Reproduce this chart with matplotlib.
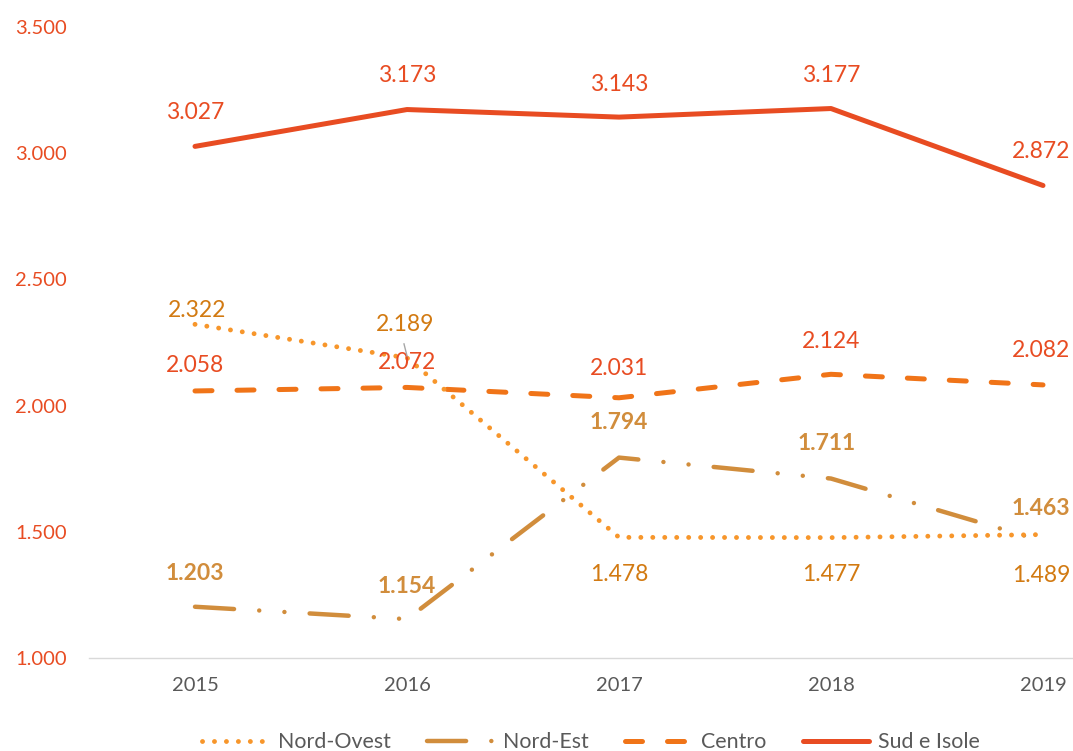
import matplotlib
matplotlib.use("Agg")
import matplotlib.pyplot as plt
from matplotlib.lines import Line2D

years = ["2015", "2016", "2017", "2018", "2019"]
nord_ovest = [2.322, 2.189, 1.478, 1.477, 1.489]
nord_est = [1.203, 1.154, 1.794, 1.711, 1.463]
centro = [2.058, 2.072, 2.031, 2.124, 2.082]
sud_isole = [3.027, 3.173, 3.143, 3.177, 2.872]
y_ticks = [1.0, 1.5, 2.0, 2.5, 3.0, 3.5]

plt.rcParams['font.family'] = ['Lato', 'DejaVu Sans']

C_SUD = "#E84C22"
C_CEN = "#F07418"
C_NO = "#F7962B"
C_NE = "#D18D3C"
C_NO_LBL = "#D27A12"
C_NE_LBL = "#D18D3C"
GRAY = "#595959"

fig = plt.figure(figsize=(10.73, 7.51), dpi=100)
W, H = 1073, 751
x_left = 89
step = 212
ax = fig.add_axes([x_left / W, (H - 658) / H, (5 * step) / W, (658 - 27) / H])
ax.set_xlim(-0.5, 4.5)
ax.set_ylim(1.0, 3.5)

x = list(range(len(years)))

LS_CEN = (0, (3.4, 5.0))
LS_NE = (0, (8.8, 5.67, 0.01, 5.67, 0.01, 5.67))
LS_NO = (0, (0.01, 2.45))

ax.plot(x, sud_isole, color=C_SUD, lw=3.6, solid_capstyle='round', solid_joinstyle='round', zorder=3)
ax.plot(x, centro, color=C_CEN, lw=3.6, linestyle=LS_CEN, dash_capstyle='round', zorder=3)
ax.plot(x, nord_est, color=C_NE, lw=3.2, linestyle=LS_NE, dash_capstyle='round', zorder=3)
ax.plot(x, nord_ovest, color=C_NO, lw=3.5, linestyle=LS_NO, dash_capstyle='round', zorder=4)

def fmt(v):
    return f"{v:.3f}"

def lbl(xi, v, dx, dy, color, bold=False):
    ax.annotate(fmt(v), (xi, v), xytext=(dx, dy), textcoords='offset pixels',
                ha='center', va='center', fontsize=16.5, color=color,
                fontweight='bold' if bold else 'normal', zorder=5)

sud_off = [(0, 34), (0, 34), (0, 33), (0, 33), (-2, 34)]
cen_off = [(0, 25), (0, 25), (0, 29), (0, 33), (-2, 34)]
no_off = [(2, 14), (-2, 33), (0, -37), (0, -37), (-2, -41)]
ne_off = [(0, 33), (0, 33), (0, 35), (-4, 35), (-2, 33)]

for i in x:
    lbl(i, sud_isole[i], *sud_off[i], C_SUD)
    lbl(i, centro[i], *cen_off[i], C_SUD)
    lbl(i, nord_ovest[i], *no_off[i], C_NO_LBL)
    lbl(i, nord_est[i], *ne_off[i], C_NE_LBL, bold=True)

# leader line for 2016 Nord-Ovest label
p0 = ax.transData.transform((1, nord_ovest[1]))
ax.plot([p0[0] - 3, p0[0]], [p0[1] + 14, p0[1] + 2], color="#A6A6A6", lw=1,
        transform=None, zorder=5)

ax.set_xticks(x)
ax.set_xticklabels(years, color=GRAY, fontsize=14.5)
ax.set_yticks(y_ticks)
ax.set_yticklabels([f"{v:.3f}" for v in y_ticks], color=C_SUD, fontsize=14.5)
ax.tick_params(axis='both', length=0)
ax.tick_params(axis='y', pad=16)
ax.tick_params(axis='x', pad=14)
for s in ['top', 'right', 'left']:
    ax.spines[s].set_visible(False)
ax.spines['bottom'].set_color("#D9D9D9")
ax.spines['bottom'].set_linewidth(1.0)

handles = [
    Line2D([], [], color=C_NO, lw=3.5, linestyle=LS_NO, dash_capstyle='round'),
    Line2D([], [], color=C_NE, lw=3.2, linestyle=(0, (8.8, 5.67, 0.01, 5.67)), dash_capstyle='round'),
    Line2D([], [], color=C_CEN, lw=3.6, linestyle=LS_CEN, dash_capstyle='round'),
    Line2D([], [], color=C_SUD, lw=3.6, solid_capstyle='round'),
]
names = ["Nord-Ovest", "Nord-Est", "Centro", "Sud e Isole"]
leg = fig.legend(handles, names, loc='center', bbox_to_anchor=(591 / W, (H - 742) / H),
                 ncol=4, frameon=False, fontsize=15.4, handlelength=3.1,
                 handletextpad=0.45, columnspacing=1.7, labelcolor=GRAY)

fig.savefig("out.png", dpi=100)
